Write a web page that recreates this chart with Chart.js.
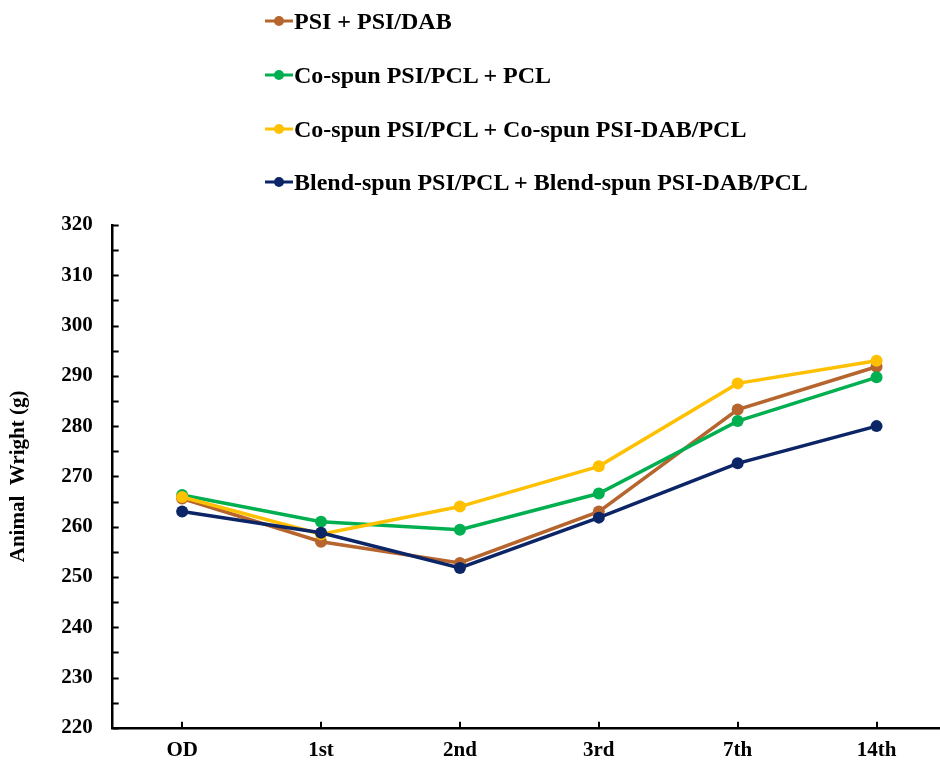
<!DOCTYPE html>
<html>
<head>
<meta charset="utf-8">
<script src="https://cdn.jsdelivr.net/npm/chart.js@4/dist/chart.umd.min.js"></script>
<style>
  html, body { margin: 0; padding: 0; background: #fff; }
  #wrap { position: relative; width: 940px; height: 765px; overflow: hidden; }
  #chart { position: absolute; left: 0; top: 0; }
  #legend { position: absolute; left: 265px; top: 0; font-family: "Liberation Serif", "Times New Roman", serif; font-weight: bold; font-size: 24px; color: #000; }
  .item { position: absolute; left: 0; white-space: nowrap; display: flex; align-items: center; height: 28px; }
  .item svg { margin-right: 1px; }
</style>
</head>
<body>
<div id="wrap">
  <canvas id="chart" width="952" height="773"></canvas>
  <div id="legend"></div>
</div>
<script>
// Days after implantation
const categories = ['OD', '1st', '2nd', '3rd', '7th', '14th'];

// Mean animal weight (g) per group
const psiDab        = [265.6, 257.0, 252.8, 263.0, 283.3, 291.8];
const coPcl         = [266.3, 261.0, 259.4, 266.6, 281.0, 289.7];
const coDabPcl      = [265.9, 258.5, 264.0, 272.0, 288.5, 293.0];
const blendDabPcl   = [263.0, 258.8, 251.8, 261.8, 272.6, 280.0];

const seriesNames = [
  'PSI + PSI/DAB',
  'Co-spun PSI/PCL + PCL',
  'Co-spun PSI/PCL + Co-spun PSI-DAB/PCL',
  'Blend-spun PSI/PCL + Blend-spun PSI-DAB/PCL'
];
const seriesColors = ['#B5652D', '#00B050', '#FFC000', '#0C2566'];
const seriesValues = [psiDab, coPcl, coDabPcl, blendDabPcl];

const yMin = 220, yMax = 320, yStep = 5;

const FONT = '"Liberation Serif", "Times New Roman", serif';

// Short inward tick marks on both axes
const innerTicks = {
  id: 'innerTicks',
  afterDraw(chart) {
    const { ctx, chartArea, scales } = chart;
    ctx.save();
    ctx.strokeStyle = '#000';
    ctx.lineWidth = 2;
    scales.y.ticks.forEach(t => {
      const py = Math.round(scales.y.getPixelForValue(t.value)) + 0.5;
      ctx.beginPath();
      ctx.moveTo(chartArea.left, py);
      ctx.lineTo(chartArea.left + 6, py);
      ctx.stroke();
    });
    categories.forEach((c, i) => {
      const px = Math.round(scales.x.getPixelForValue(i));
      ctx.beginPath();
      ctx.moveTo(px, chartArea.bottom);
      ctx.lineTo(px, chartArea.bottom - 6);
      ctx.stroke();
    });
    ctx.restore();
  }
};

new Chart(document.getElementById('chart'), {
  type: 'line',
  data: {
    labels: categories,
    datasets: seriesValues.map((vals, i) => ({
      label: seriesNames[i],
      data: vals,
      borderColor: seriesColors[i],
      backgroundColor: seriesColors[i],
      pointBackgroundColor: seriesColors[i],
      pointBorderColor: seriesColors[i],
      borderWidth: 3.5,
      pointRadius: 6,
      pointBorderWidth: 0,
      tension: 0,
      fill: false
    })).reverse()
  },
  options: {
    responsive: false,
    animation: false,
    layout: { padding: { top: 225, right: 0, bottom: 0, left: 6 } },
    plugins: {
      legend: { display: false },
      tooltip: { enabled: false }
    },
    scales: {
      x: {
        offset: true,
        grid: { display: true, drawOnChartArea: false, drawTicks: false },
        border: { display: true, color: '#000', width: 2.5 },
        ticks: { color: '#000', font: { family: FONT, weight: 'bold', size: 21 }, padding: 10 }
      },
      y: {
        min: yMin,
        max: yMax,
        grid: { display: true, drawOnChartArea: false, drawTicks: false },
        border: { display: true, color: '#000', width: 2.5 },
        ticks: {
          stepSize: yStep,
          autoSkip: false,
          color: '#000',
          padding: 20,
          font: { family: FONT, weight: 'bold', size: 21 },
          callback: v => (v % 10 === 0 ? String(v) : '')
        },
        title: {
          display: true,
          text: 'Animal  Wright (g)',
          color: '#000',
          font: { family: FONT, weight: 'bold', size: 21 },
          padding: { top: 0, bottom: 10 }
        }
      }
    }
  },
  plugins: [innerTicks]
});

// Legend: one row per series, line-with-dot marker before the name
const legendRows = [21, 75, 129, 182];
const legend = document.getElementById('legend');
seriesNames.forEach((name, i) => {
  const row = document.createElement('div');
  row.className = 'item';
  row.style.top = (legendRows[i] - 14) + 'px';
  const c = seriesColors[i];
  row.innerHTML =
    '<svg width="28" height="14" viewBox="0 0 28 14">' +
    '<line x1="0" y1="7" x2="28" y2="7" stroke="' + c + '" stroke-width="3"/>' +
    '<circle cx="14" cy="7" r="5" fill="' + c + '"/></svg>' +
    '<span></span>';
  row.querySelector('span').textContent = name;
  legend.appendChild(row);
});
</script>
</body>
</html>
